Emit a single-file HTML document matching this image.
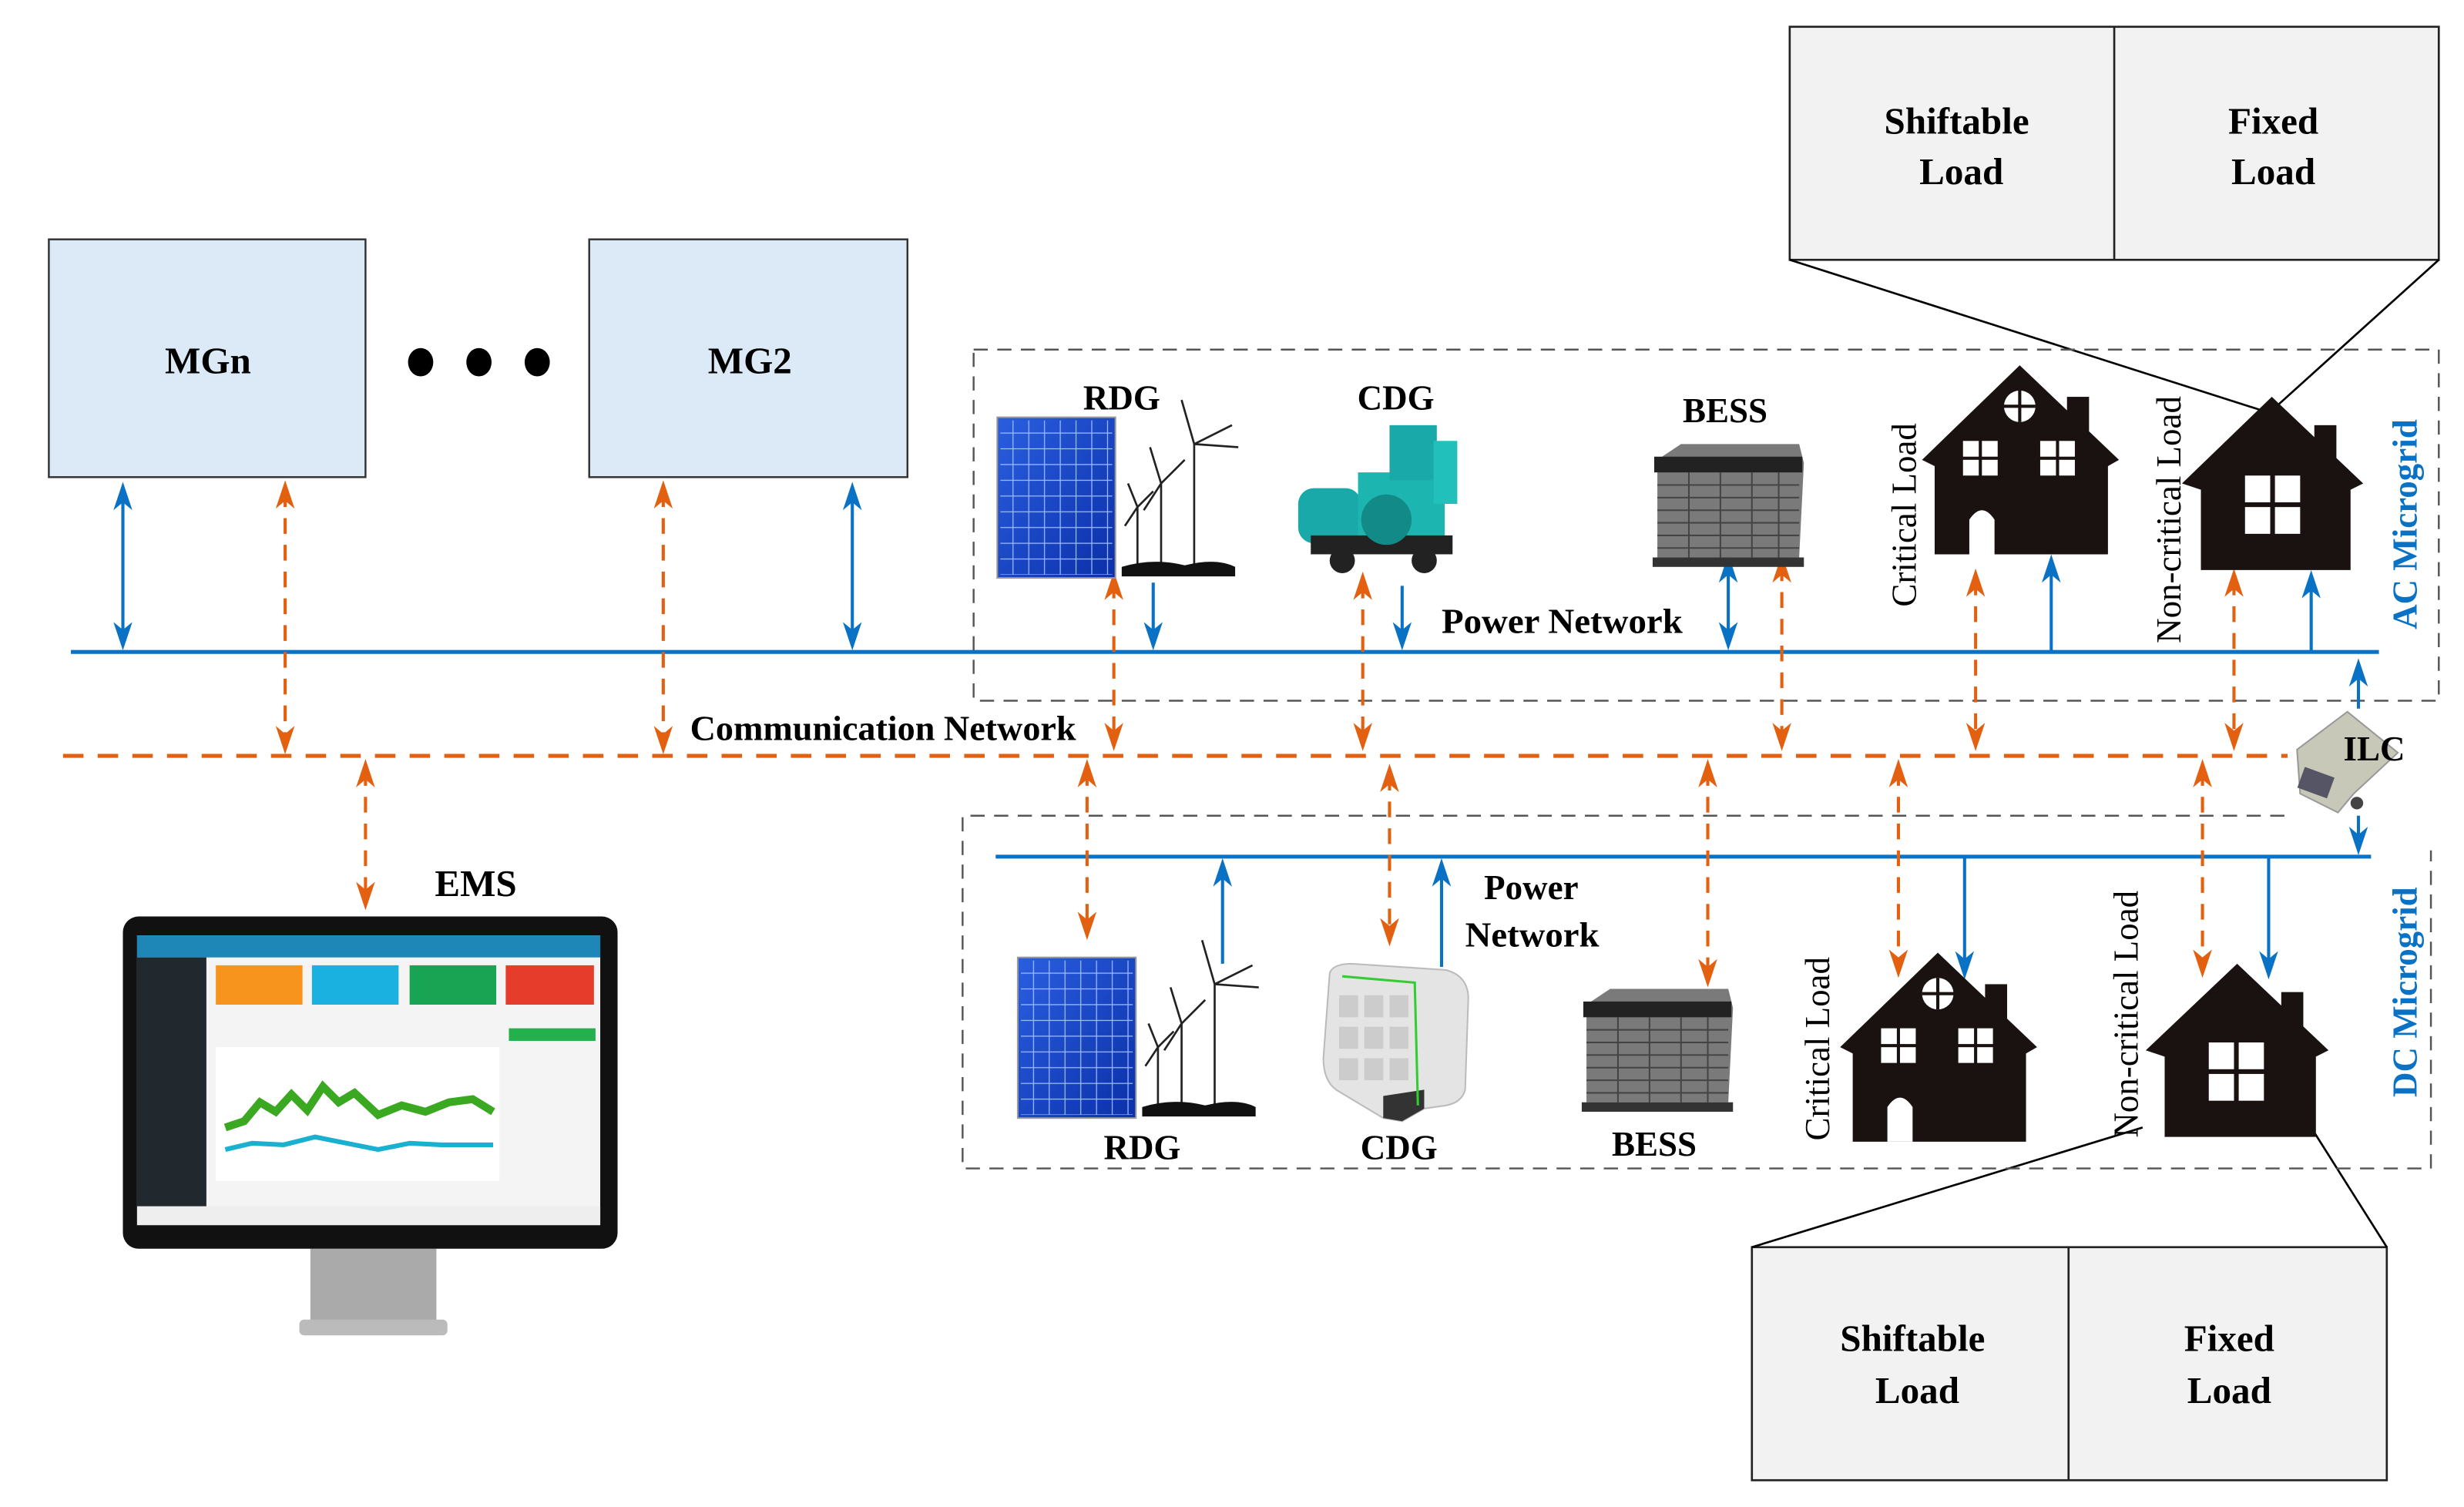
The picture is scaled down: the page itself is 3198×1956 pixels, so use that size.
<!DOCTYPE html>
<html><head><meta charset="utf-8"><style>
html,body{margin:0;padding:0;background:#fff}
svg{display:block}
text{font-family:"Liberation Serif",serif;font-weight:bold;fill:#000}
</style></head><body>
<svg width="3198" height="1956" viewBox="0 0 1564 957" preserveAspectRatio="none" xmlns="http://www.w3.org/2000/svg">
<defs>
<path id="bd" d="M0,0 L-6,-18 L0,-13 L6,-18z" fill="#0a72c4"/>
<path id="bu" d="M0,0 L-6,18 L0,13 L6,18z" fill="#0a72c4"/>
<path id="od" d="M0,0 L-6,-18 L0,-13 L6,-18z" fill="#e2600f"/>
<path id="ou" d="M0,0 L-6,18 L0,13 L6,18z" fill="#e2600f"/>
<linearGradient id="sol" x1="0" y1="0" x2="1" y2="1"><stop offset="0" stop-color="#2a5fe0"/><stop offset="1" stop-color="#0b2fa8"/></linearGradient>
<pattern id="cells" width="10" height="10" patternUnits="userSpaceOnUse"><rect width="10" height="10" fill="none" stroke="#9fc0ff" stroke-width="0.6"/></pattern>
<g id="solar"><rect x="0" y="0" width="75" height="102" fill="url(#sol)" stroke="#999" stroke-width="1"/><rect x="2" y="2" width="71" height="98" fill="url(#cells)"/></g>
<g id="turb" stroke="#222" stroke-width="1.3" fill="none">
<line x1="46" y1="100" x2="46" y2="20"/><path d="M46,20 L38,-8 M46,20 L70,8 M46,20 L74,22"/>
<line x1="25" y1="100" x2="25" y2="45"/><path d="M25,45 L18,22 M25,45 L40,30 M25,45 L14,62"/>
<line x1="10" y1="100" x2="10" y2="60"/><path d="M10,60 L4,45 M10,60 L20,50 M10,60 L2,72"/>
<path d="M0,98 Q20,92 40,97 Q60,92 72,98 L72,104 L0,104z" fill="#111" stroke="none"/></g>
<g id="batt"><path d="M5,10 L20,0 L95,0 L98,12 L95,72 L5,72z" fill="#7a7a7a"/><rect x="3" y="8" width="94" height="10" fill="#222"/><g stroke="#444" stroke-width="1"><line x1="5" y1="26" x2="95" y2="26"/><line x1="5" y1="34" x2="95" y2="34"/><line x1="5" y1="42" x2="95" y2="42"/><line x1="5" y1="50" x2="95" y2="50"/><line x1="5" y1="58" x2="95" y2="58"/><line x1="5" y1="66" x2="95" y2="66"/><line x1="25" y1="18" x2="25" y2="72"/><line x1="45" y1="18" x2="45" y2="72"/><line x1="65" y1="18" x2="65" y2="72"/><line x1="82" y1="18" x2="82" y2="72"/></g><rect x="2" y="72" width="96" height="6" fill="#333"/></g>
</defs>

<rect x="31" y="152" width="201" height="151" fill="#dbeaf6" stroke="#333" stroke-width="1.2"/>
<rect x="374" y="152" width="202" height="151" fill="#dbeaf6" stroke="#333" stroke-width="1.2"/>
<text x="132" y="237" font-size="24" text-anchor="middle">MGn</text>
<text x="476" y="237" font-size="24" text-anchor="middle">MG2</text>
<ellipse cx="267" cy="230" rx="8" ry="9"/><ellipse cx="304" cy="230" rx="8" ry="9"/><ellipse cx="341" cy="230" rx="8" ry="9"/>

<rect x="1136" y="17" width="412" height="148" fill="#f2f2f2" stroke="#222" stroke-width="1.3"/>
<line x1="1342" y1="17" x2="1342" y2="165" stroke="#222" stroke-width="1.3"/>
<text x="1242" y="85" font-size="24" text-anchor="middle">Shiftable</text>
<text x="1245" y="117" font-size="24" text-anchor="middle">Load</text>
<text x="1443" y="85" font-size="24" text-anchor="middle">Fixed</text>
<text x="1443" y="117" font-size="24" text-anchor="middle">Load</text>
<line x1="1136" y1="165" x2="1440" y2="262" stroke="#000" stroke-width="1.3"/>
<line x1="1548" y1="165" x2="1445" y2="258" stroke="#000" stroke-width="1.3"/>

<rect x="1112" y="792" width="403" height="148" fill="#f2f2f2" stroke="#222" stroke-width="1.3"/>
<line x1="1313" y1="792" x2="1313" y2="940" stroke="#222" stroke-width="1.3"/>
<text x="1214" y="858" font-size="24" text-anchor="middle">Shiftable</text>
<text x="1217" y="891" font-size="24" text-anchor="middle">Load</text>
<text x="1415" y="858" font-size="24" text-anchor="middle">Fixed</text>
<text x="1415" y="891" font-size="24" text-anchor="middle">Load</text>
<line x1="1112" y1="792" x2="1360" y2="716" stroke="#000" stroke-width="1.3"/>
<line x1="1515" y1="792" x2="1467" y2="716" stroke="#000" stroke-width="1.3"/>

<rect x="618" y="222" width="930" height="223" fill="none" stroke="#555" stroke-width="1.2" stroke-dasharray="9,6"/>
<path d="M1450,518 L611,518 L611,742 L1543,742 L1543,540" fill="none" stroke="#555" stroke-width="1.2" stroke-dasharray="9,6"/>

<line x1="45" y1="414" x2="1510" y2="414" stroke="#0a72c4" stroke-width="2.5"/>
<line x1="632" y1="544" x2="1505" y2="544" stroke="#0a72c4" stroke-width="2.5"/>
<line x1="40" y1="480" x2="1452" y2="480" stroke="#e2600f" stroke-width="2.5" stroke-dasharray="13,9"/>

<g stroke="#0a72c4" stroke-width="2" fill="none">
<line x1="78" y1="310" x2="78" y2="408"/>
<line x1="541" y1="310" x2="541" y2="408"/>
<line x1="732" y1="370" x2="732" y2="408"/>
<line x1="890" y1="372" x2="890" y2="408"/>
<line x1="1097" y1="356" x2="1097" y2="408"/>
<line x1="1302" y1="414" x2="1302" y2="356"/>
<line x1="1467" y1="414" x2="1467" y2="366"/>
<line x1="1497" y1="450" x2="1497" y2="422"/>
<line x1="776" y1="612" x2="776" y2="550"/>
<line x1="915" y1="614" x2="915" y2="550"/>
<line x1="1247" y1="544" x2="1247" y2="616"/>
<line x1="1440" y1="544" x2="1440" y2="616"/>
<line x1="1497" y1="518" x2="1497" y2="538"/>
</g>
<use href="#bu" x="78" y="306"/><use href="#bd" x="78" y="413"/>
<use href="#bu" x="541" y="306"/><use href="#bd" x="541" y="413"/>
<use href="#bd" x="732" y="413"/><use href="#bd" x="890" y="413"/>
<use href="#bu" x="1097" y="352"/><use href="#bd" x="1097" y="413"/>
<use href="#bu" x="1302" y="352"/><use href="#bu" x="1467" y="362"/><use href="#bu" x="1497" y="418"/>
<use href="#bu" x="776" y="545"/><use href="#bu" x="915" y="545"/>
<use href="#bd" x="1247" y="622"/><use href="#bd" x="1440" y="622"/><use href="#bd" x="1497" y="543"/>

<g stroke="#e2600f" stroke-width="2" fill="none" stroke-dasharray="10,7">
<line x1="181" y1="312" x2="181" y2="472"/>
<line x1="421" y1="312" x2="421" y2="472"/>
<line x1="232" y1="489" x2="232" y2="571"/>
<line x1="707" y1="370" x2="707" y2="470"/>
<line x1="865" y1="370" x2="865" y2="470"/>
<line x1="1131" y1="359" x2="1131" y2="470"/>
<line x1="1254" y1="368" x2="1254" y2="470"/>
<line x1="1418" y1="368" x2="1418" y2="470"/>
<line x1="690" y1="489" x2="690" y2="590"/>
<line x1="882" y1="492" x2="882" y2="594"/>
<line x1="1084" y1="489" x2="1084" y2="620"/>
<line x1="1205" y1="489" x2="1205" y2="614"/>
<line x1="1398" y1="489" x2="1398" y2="614"/>
</g>
<use href="#ou" x="181" y="305"/><use href="#od" x="181" y="479"/>
<use href="#ou" x="421" y="305"/><use href="#od" x="421" y="479"/>
<use href="#ou" x="232" y="482"/><use href="#od" x="232" y="578"/>
<use href="#ou" x="707" y="363"/><use href="#od" x="707" y="477"/>
<use href="#ou" x="865" y="363"/><use href="#od" x="865" y="477"/>
<use href="#ou" x="1131" y="352"/><use href="#od" x="1131" y="477"/>
<use href="#ou" x="1254" y="361"/><use href="#od" x="1254" y="477"/>
<use href="#ou" x="1418" y="361"/><use href="#od" x="1418" y="477"/>
<use href="#ou" x="690" y="482"/><use href="#od" x="690" y="597"/>
<use href="#ou" x="882" y="485"/><use href="#od" x="882" y="601"/>
<use href="#ou" x="1084" y="482"/><use href="#od" x="1084" y="627"/>
<use href="#ou" x="1205" y="482"/><use href="#od" x="1205" y="621"/>
<use href="#ou" x="1398" y="482"/><use href="#od" x="1398" y="621"/>

<rect x="436" y="450" width="250" height="24" fill="#fff"/>
<text x="438" y="470" font-size="22" textLength="245" lengthAdjust="spacingAndGlyphs">Communication Network</text>
<text x="915" y="402" font-size="22" textLength="153" lengthAdjust="spacingAndGlyphs">Power Network</text>
<text x="942" y="571" font-size="22">Power</text>
<text x="930" y="601" font-size="22" textLength="85" lengthAdjust="spacingAndGlyphs">Network</text>
<text x="302" y="569" font-size="24" text-anchor="middle">EMS</text>
<text x="712" y="260" font-size="22" text-anchor="middle">RDG</text>
<text x="886" y="260" font-size="22" text-anchor="middle">CDG</text>
<text x="1095" y="268" font-size="22" text-anchor="middle">BESS</text>
<text x="725" y="736" font-size="22" text-anchor="middle">RDG</text>
<text x="888" y="736" font-size="22" text-anchor="middle">CDG</text>
<text x="1050" y="734" font-size="22" text-anchor="middle">BESS</text>
<text transform="translate(1216,327) rotate(-90)" font-size="22" text-anchor="middle" style="font-weight:normal">Critical Load</text>
<text transform="translate(1384,330) rotate(-90)" font-size="22" text-anchor="middle" style="font-weight:normal">Non-critical Load</text>
<text transform="translate(1161,666) rotate(-90)" font-size="22" text-anchor="middle" style="font-weight:normal">Critical Load</text>
<text transform="translate(1357,644) rotate(-90)" font-size="22" text-anchor="middle" style="font-weight:normal">Non-critical Load</text>
<text transform="translate(1534,333) rotate(-90)" font-size="22" text-anchor="middle" style="fill:#0a72c4">AC Microgrid</text>
<text transform="translate(1534,630) rotate(-90)" font-size="22" text-anchor="middle" style="fill:#0a72c4">DC Microgrid</text>

<g transform="translate(1490,482)">
<path d="M-32,-6 L0,-30 L32,-4 L4,22 L-6,34 L-30,22z" fill="#c8c8b8" stroke="#999"/>
<rect x="-30" y="8" width="20" height="14" fill="#556" transform="rotate(20 -20 15)"/>
<circle cx="6" cy="28" r="4" fill="#444"/>
</g>
<text x="1507" y="483" font-size="22" text-anchor="middle">ILC</text>

<use href="#solar" x="633" y="265"/>
<use href="#turb" x="712" y="262"/>
<g transform="translate(822,270)">
<rect x="2" y="40" width="40" height="35" rx="10" fill="#1aa9a9"/>
<rect x="40" y="30" width="55" height="45" fill="#1cb5b0"/>
<rect x="60" y="0" width="30" height="35" fill="#1aa9a9"/>
<rect x="88" y="10" width="15" height="40" fill="#22c0ba"/>
<rect x="10" y="70" width="90" height="12" fill="#222"/>
<circle cx="30" cy="86" r="8" fill="#222"/><circle cx="82" cy="86" r="8" fill="#222"/>
<circle cx="58" cy="60" r="16" fill="#128a88"/>
</g>
<use href="#batt" x="1047" y="282"/>
<g transform="translate(1220,232)" fill="#1a1210">
<path d="M62,0 L125,60 L118,64 L118,120 L8,120 L8,64 L0,60z"/>
<rect x="92" y="20" width="14" height="35"/>
<circle cx="62" cy="26" r="10" fill="#fff"/><path d="M52,26 H72 M62,16 V36" stroke="#1a1210" stroke-width="2"/>
<g fill="#fff"><rect x="26" y="48" width="10" height="10"/><rect x="38" y="48" width="10" height="10"/><rect x="26" y="60" width="10" height="10"/><rect x="38" y="60" width="10" height="10"/>
<rect x="75" y="48" width="10" height="10"/><rect x="87" y="48" width="10" height="10"/><rect x="75" y="60" width="10" height="10"/><rect x="87" y="60" width="10" height="10"/>
<path d="M30,120 V98 Q38,86 46,98 V120z"/></g>
</g>
<g transform="translate(1385,252)" fill="#1a1210">
<path d="M57,0 L115,55 L107,59 L107,110 L12,110 L12,59 L0,55z"/>
<rect x="84" y="18" width="14" height="35"/>
<g fill="#fff"><rect x="40" y="50" width="16" height="17"/><rect x="59" y="50" width="16" height="17"/><rect x="40" y="70" width="16" height="17"/><rect x="59" y="70" width="16" height="17"/></g>
</g>

<use href="#solar" x="646" y="608"/>
<use href="#turb" x="725" y="605"/>
<g transform="translate(838,612)">
<path d="M6,6 Q8,0 20,0 L80,4 Q94,8 94,22 L92,80 Q90,88 80,90 L66,92 L52,100 L40,98 L10,80 Q2,74 2,60z" fill="#e4e4e4" stroke="#bbb"/>
<path d="M40,98 L52,100 L66,92 L66,80 L40,84z" fill="#333"/>
<path d="M14,8 L60,12 L62,90" fill="none" stroke="#3c3" stroke-width="1.5"/>
<g fill="#ccc"><rect x="12" y="20" width="12" height="14"/><rect x="28" y="20" width="12" height="14"/><rect x="44" y="20" width="12" height="14"/><rect x="12" y="40" width="12" height="14"/><rect x="28" y="40" width="12" height="14"/><rect x="44" y="40" width="12" height="14"/><rect x="12" y="60" width="12" height="14"/><rect x="28" y="60" width="12" height="14"/><rect x="44" y="60" width="12" height="14"/></g>
</g>
<use href="#batt" x="1002" y="628"/>
<g transform="translate(1168,605)" fill="#1a1210">
<path d="M62,0 L125,60 L118,64 L118,120 L8,120 L8,64 L0,60z"/>
<rect x="92" y="20" width="14" height="35"/>
<circle cx="62" cy="26" r="10" fill="#fff"/><path d="M52,26 H72 M62,16 V36" stroke="#1a1210" stroke-width="2"/>
<g fill="#fff"><rect x="26" y="48" width="10" height="10"/><rect x="38" y="48" width="10" height="10"/><rect x="26" y="60" width="10" height="10"/><rect x="38" y="60" width="10" height="10"/>
<rect x="75" y="48" width="10" height="10"/><rect x="87" y="48" width="10" height="10"/><rect x="75" y="60" width="10" height="10"/><rect x="87" y="60" width="10" height="10"/>
<path d="M30,120 V98 Q38,86 46,98 V120z"/></g>
</g>
<g transform="translate(1362,612)" fill="#1a1210">
<path d="M58,0 L116,55 L108,59 L108,110 L12,110 L12,59 L0,55z"/>
<rect x="86" y="18" width="14" height="35"/>
<g fill="#fff"><rect x="40" y="50" width="16" height="17"/><rect x="59" y="50" width="16" height="17"/><rect x="40" y="70" width="16" height="17"/><rect x="59" y="70" width="16" height="17"/></g>
</g>

<g>
<rect x="197" y="793" width="80" height="50" fill="#aaa"/>
<rect x="190" y="838" width="94" height="10" rx="3" fill="#bbb"/>
<rect x="78" y="582" width="314" height="211" rx="10" fill="#111"/>
<rect x="87" y="594" width="294" height="184" fill="#f4f4f4"/>
<rect x="87" y="594" width="294" height="14" fill="#1f86b8"/>
<rect x="87" y="608" width="44" height="170" fill="#22292e"/>
<rect x="137" y="613" width="55" height="25" fill="#f7941d"/>
<rect x="198" y="613" width="55" height="25" fill="#1ab0e0"/>
<rect x="260" y="613" width="55" height="25" fill="#19a454"/>
<rect x="321" y="613" width="56" height="25" fill="#e63c2c"/>
<rect x="137" y="665" width="180" height="85" fill="#fff"/>
<polyline points="143,716 155,712 165,700 175,706 185,695 195,705 205,690 215,700 225,694 240,708 255,702 270,706 285,700 300,698 313,706" fill="none" stroke="#3aa820" stroke-width="5"/>
<polyline points="143,730 160,726 180,727 200,722 220,726 240,730 260,726 280,727 313,727" fill="none" stroke="#1ab0d0" stroke-width="3"/>
<rect x="323" y="653" width="55" height="8" fill="#22b14c"/>
<rect x="87" y="766" width="294" height="12" fill="#eee"/>
</g>
</svg>
</body></html>
